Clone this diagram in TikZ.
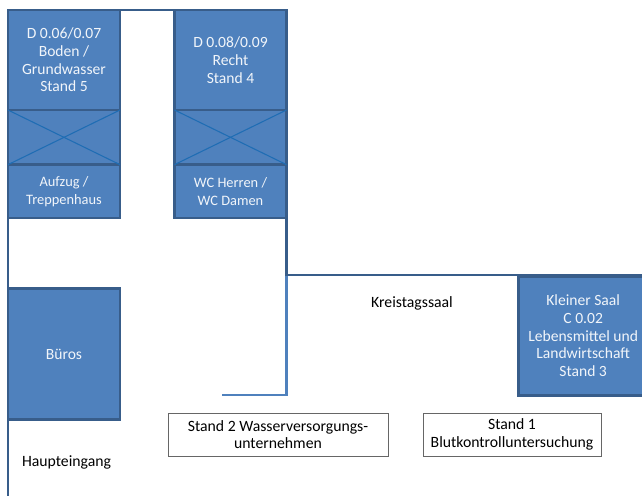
\documentclass[tikz,border=0pt]{standalone}
\usepackage{fontspec}
\setmainfont{Carlito}
\usepackage{xcolor}
\usepackage{tikz}
\usetikzlibrary{positioning}
\definecolor{roomfill}{HTML}{4F81BD}
\definecolor{roomline}{HTML}{385D8A}
\definecolor{crossline}{HTML}{1F6DB4}

\tikzset{
  room/.style={draw=roomline, line width=2pt, fill=roomfill, text=white!92!roomfill, align=center, inner sep=0pt, outer sep=0pt, font=\fontsize{11.7}{13.3}\selectfont},
  smallroom/.style={room, font=\fontsize{10.8}{13.3}\selectfont},
  standbox/.style={draw=black!60, line width=0.7pt, fill=white, align=center, inner sep=0pt, outer sep=0pt, minimum height=32.2pt, font=\fontsize{11.8}{13.3}\selectfont},
  wall/.style={draw=roomline, line width=1.9pt},
  wallblue/.style={draw=roomfill, line width=2.2pt},
  crossing/.style={draw=crossline, line width=0.8pt},
  plainlabel/.style={font=\fontsize{11.8}{13.3}\selectfont}
}

\begin{document}
\begin{tikzpicture}[x=0.75pt, y=-0.75pt]
  \useasboundingbox (0,0) rectangle (642,496);

  % Left column
  \node[room, minimum width=84pt, minimum height=75pt] (stand5) at (64,60) {D 0.06/0.07\\Boden /\\Grundwasser\\Stand 5};
  \node[room, minimum width=84pt, minimum height=41pt, below=0pt of stand5] (lift) {};
  \node[smallroom, minimum width=84pt, minimum height=40pt, below=0pt of lift] (stairs) {Aufzug /\\Treppenhaus};
  \draw[crossing] (lift.north west) -- (lift.south east);
  \draw[crossing] (lift.south west) -- (lift.north east);

  % Right column
  \node[room, minimum width=84pt, minimum height=75pt] (stand4) at (230.5,60) {D 0.08/0.09\\Recht\\Stand 4};
  \node[room, minimum width=84pt, minimum height=41pt, below=0pt of stand4] (wcgap) {};
  \node[smallroom, minimum width=84pt, minimum height=40pt, below=0pt of wcgap] (wc) {WC Herren /\\WC Damen};
  \draw[crossing] (wcgap.north west) -- (wcgap.south east);
  \draw[crossing] (wcgap.south west) -- (wcgap.north east);

  % Other rooms
  \node[room, minimum width=84pt, minimum height=98pt] (bueros) at (64,354) {Büros};
  \node[room, anchor=north west, minimum width=97pt, minimum height=89pt] (saal) at (518.5,276.5) {Kleiner Saal\\C 0.02\\Lebensmittel und\\Landwirtschaft\\Stand 3};

  % Walls
  \coordinate (doorend) at (8,496);
  \coordinate (corner) at (286.5,275);
  \coordinate (wallend) at (642,275);
  \coordinate (stubend) at (222,395);
  \draw[wall] (stand5.north east) -- (stand4.north west);
  \draw[wall] (stairs.south west) -- (bueros.north west);
  \draw[wall] (bueros.south west) -- (doorend);
  \draw[wallblue] (corner) |- (stubend);
  \draw[wall] (wc.south east) -- (corner) -- (wallend);

  % Labels
  \node[standbox, minimum width=165pt] (stand2) at (278,434.5) {Stand 2 Wasserversorgungs-\\unternehmen};
  \node[standbox, minimum width=133.5pt] (stand1) at (512,434.5) {Stand 1\\Blutkontrolluntersuchung};
  \node[plainlabel] (saallabel) at (412,303) {Kreistagssaal};
  \node[plainlabel] (eingang) at (66.5,462) {Haupteingang};
\end{tikzpicture}
\end{document}
